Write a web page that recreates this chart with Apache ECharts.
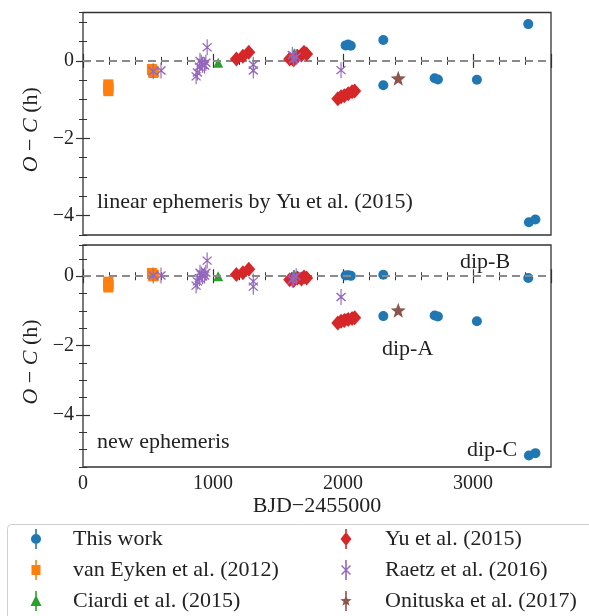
<!DOCTYPE html>
<html><head><meta charset="utf-8">
<script src="https://cdn.jsdelivr.net/npm/echarts@6/dist/echarts.min.js"></script>
<style>html,body{margin:0;padding:0;background:#fff}#c{width:589px;height:616px}</style>
</head><body><div id="c"></div>
<script>
// ---- data ----
const thisX      = [2020, 2040, 2060, 2310, 3425, 2030, 2310, 2705, 2730, 3030, 3430, 3480];
const thisTopY   = [0.40, 0.42, 0.39, 0.54, 0.95, -0.85, -0.63, -0.45, -0.48, -0.49, -4.17, -4.10];
const thisBotY   = [0.02, 0.03, 0.01, 0.04, -0.05, -1.22, -1.15, -1.13, -1.16, -1.30, -5.17, -5.10];

const vanX       = [195, 195, 195, 195, 530, 545, 540];
const vanTopY    = [-0.62, -0.67, -0.72, -0.77, -0.22, -0.28, -0.30];
const vanBotY    = [-0.17, -0.22, -0.27, -0.31, 0.08, 0.03, 0.01];

const ciaX       = [1040, 1625];
const ciaTopY    = [-0.05, 0.20];
const ciaBotY    = [0.00, 0.05];

const yuX        = [1180, 1230, 1275, 1590, 1620, 1650, 1680, 1700, 1720, 1960, 1985, 2010, 2040, 2070, 2090];
const yuTopY     = [0.05, 0.12, 0.22, 0.05, 0.02, 0.12, 0.15, 0.22, 0.18, -0.98, -0.93, -0.90, -0.85, -0.80, -0.78];
const yuBotY     = [0.05, 0.10, 0.20, -0.10, -0.12, -0.05, -0.08, -0.02, -0.05, -1.35, -1.30, -1.28, -1.25, -1.22, -1.20];

const raeX       = [540, 600, 870, 880, 895, 900, 910, 920, 935, 945, 955, 1310, 1310, 1620, 1640, 1610, 1985];
const raeTopY    = [-0.27, -0.25, -0.40, -0.30, -0.15, 0.00, -0.05, -0.10, -0.12, -0.05, 0.35, -0.10, -0.25, 0.05, 0.10, 0.15, -0.24];
const raeBotY    = [0.02, 0.02, -0.27, -0.15, -0.05, 0.10, 0.05, 0.00, 0.02, 0.10, 0.45, -0.15, -0.30, -0.05, 0.00, -0.10, -0.60];

const oniX       = [2425];
const oniTopY    = [-0.45];
const oniBotY    = [-0.98];

const xTicks     = [0, 1000, 2000, 3000];
const yTicks     = [-4, -2, 0];

// ---- styling ----
const FONT = 'Liberation Serif';
const FS = 22;     // text
const FT = 20;     // tick labels
const C = {blue:'#1f77b4', orange:'#ff7f0e', green:'#2ca02c', red:'#d62728', purple:'#9467bd', brown:'#8c564b'};
const BOX = ' M0,10 L0.01,10 L0.01,10.01 Z M12,10 L11.99,10 L11.99,10.01 Z';
const BAR = 'M5.2,0 L6.8,0 L6.8,20 L5.2,20 Z ';
const ICON = {
  circle: 'path://' + BAR + 'M1,10 A5,5 0 1 1 11,10 A5,5 0 1 1 1,10 Z' + BOX,
  rect: 'path://' + BAR + 'M1.5,5 L10.5,5 L10.5,15 L1.5,15 Z' + BOX,
  tri: 'path://' + BAR + 'M6,4 L11.5,15 L0.5,15 Z' + BOX,
  dia: 'path://' + BAR + 'M6,3 L11.5,10 L6,17 L0.5,10 Z' + BOX,
  x: 'path://' + BAR + 'M2,5 L11,14 L10,15 L1,6 Z M11,6 L2,15 L1,14 L10,5 Z' + BOX,
  star: 'path://' + BAR + 'M6,4 L7.47,7.98 L11.71,8.15 L8.38,10.77 L9.53,14.85 L6,12.5 L2.47,14.85 L3.62,10.77 L0.29,8.15 L4.53,7.98 Z' + BOX
};
const RAE_SYM = 'path://M4.5,0 L5.5,0 L5.5,16 L4.5,16 Z M1.45,3.55 L9.45,11.55 L8.55,12.45 L0.55,4.45 Z M9.45,4.45 L1.45,12.45 L0.55,11.55 L8.55,3.55 Z';
const STAR_SYM = 'path://M5,4.5 L6.35,8.14 L10.23,8.3 L7.19,10.71 L8.23,14.45 L5,12.3 L1.77,14.45 L2.81,10.71 L-0.23,8.3 L3.65,8.14 Z';

const pts = (xs, ys) => xs.map((x, i) => [x, ys[i]]);
const fmt = v => v < 0 ? '\u2212' + Math.abs(v) : String(v);

const grids = [
  {left: 83, top: 12.5, width: 468, height: 222.5, ymin: -4.5, ymax: 1.25},
  {left: 83, top: 245, width: 468, height: 222, ymin: -5.5, ymax: 0.9}
];

const xAxis = [], yAxis = [];
grids.forEach((g, gi) => {
  const last = gi === 1;
  const base = {gridIndex: gi, type: 'value', min: 0, max: 3600, splitLine: {show: false}, axisLine: {show: false}};
  xAxis.push(Object.assign({}, base, {position: 'bottom', interval: 1000,
    axisTick: {inside: true, length: 7, lineStyle: {color: '#333', width: 1.2}},
    axisLabel: {show: last, customValues: xTicks, formatter: fmt, fontFamily: FONT, fontSize: FT, color: '#222', margin: 7},
    name: last ? 'BJD\u22122455000' : '', nameLocation: 'middle', nameGap: 28,
    nameTextStyle: {fontFamily: FONT, fontSize: FS, color: '#222'}}));
  xAxis.push(Object.assign({}, base, {position: 'bottom', interval: 200,
    axisTick: {inside: true, length: 4, lineStyle: {color: '#333', width: 1}}, axisLabel: {show: false}}));
  xAxis.push(Object.assign({}, base, {position: 'top', interval: 1000,
    axisTick: {inside: true, length: 7, lineStyle: {color: '#333', width: 1.2}}, axisLabel: {show: false}}));
  xAxis.push(Object.assign({}, base, {position: 'top', interval: 200,
    axisTick: {inside: true, length: 4, lineStyle: {color: '#333', width: 1}}, axisLabel: {show: false}}));

  const ybase = {gridIndex: gi, type: 'value', min: g.ymin, max: g.ymax, splitLine: {show: false}, axisLine: {show: false}};
  yAxis.push(Object.assign({}, ybase, {position: 'left', interval: 0.5,
    axisTick: {inside: true, length: 7, customValues: yTicks, lineStyle: {color: '#333', width: 1.2}},
    axisLabel: {customValues: yTicks, formatter: fmt, fontFamily: FONT, fontSize: FT, color: '#222', margin: 9},
    name: '{i|O} \u2212 {i|C} (h)', nameLocation: 'middle', nameGap: 40, nameRotate: 90,
    nameTextStyle: {fontFamily: FONT, fontSize: FS, color: '#222', padding: [0, 12, 0, 0],
      rich: {i: {fontFamily: FONT, fontSize: FS, fontStyle: 'italic', color: '#222'}}}}));
  yAxis.push(Object.assign({}, ybase, {position: 'left', interval: 0.5,
    axisTick: {inside: true, length: 4, lineStyle: {color: '#333', width: 1}}, axisLabel: {show: false}}));
  yAxis.push(Object.assign({}, ybase, {position: 'right', interval: 0.5,
    axisTick: {inside: true, length: 7, customValues: yTicks, lineStyle: {color: '#333', width: 1.2}}, axisLabel: {show: false}}));
  yAxis.push(Object.assign({}, ybase, {position: 'right', interval: 0.5,
    axisTick: {inside: true, length: 4, lineStyle: {color: '#333', width: 1}}, axisLabel: {show: false}}));
});

const series = [];
const sets = [
  {name: 'This work', color: C.blue, symbol: 'circle', size: 10, x: thisX, top: thisTopY, bot: thisBotY},
  {name: 'van Eyken et al. (2012)', color: C.orange, symbol: 'rect', size: [10, 11], x: vanX, top: vanTopY, bot: vanBotY},
  {name: 'Ciardi et al. (2015)', color: C.green, symbol: 'triangle', size: [10, 10], x: ciaX, top: ciaTopY, bot: ciaBotY},
  {name: 'Yu et al. (2015)', color: C.red, symbol: 'diamond', size: [13, 15], x: yuX, top: yuTopY, bot: yuBotY},
  {name: 'Raetz et al. (2016)', color: C.purple, symbol: RAE_SYM, size: [10, 16], x: raeX, top: raeTopY, bot: raeBotY},
  {name: 'Onituska et al. (2017)', color: C.brown, symbol: STAR_SYM, size: [15, 15], x: oniX, top: oniTopY, bot: oniBotY}
];
[0, 1].forEach(gi => {
  series.push({type: 'scatter', name: 'ref' + gi, xAxisIndex: gi * 4, yAxisIndex: gi * 4, data: [], z: 1, silent: true,
    markLine: {silent: true, symbol: 'none', label: {show: false}, animation: false,
      lineStyle: {type: [8, 5], color: '#8a8a8a', width: 2}, data: [{yAxis: 0}]}});
  sets.forEach((s, si) => {
    series.push({type: 'scatter', name: s.name, xAxisIndex: gi * 4, yAxisIndex: gi * 4,
      data: pts(s.x, gi === 0 ? s.top : s.bot), symbol: s.symbol, symbolSize: s.size,
      itemStyle: {color: s.color, opacity: 1}, z: 2 + si, animation: false});
  });
});

const legCommon = {orient: 'vertical', itemWidth: 12, itemHeight: 20, itemGap: 9, selectedMode: false, top: 528, padding: 0};

const chart = echarts.init(document.getElementById('c'), null, {renderer: 'canvas'});
chart.setOption({
  animation: false,
  backgroundColor: '#fff',
  grid: grids.map(g => ({left: g.left, top: g.top, width: g.width, height: g.height, show: true,
    borderColor: '#333', borderWidth: 1.3, backgroundColor: 'transparent', containLabel: false})),
  xAxis, yAxis, series,
  legend: [
    Object.assign({}, legCommon, {left: 30, textStyle: {fontFamily: FONT, fontSize: FS, color: '#222', lineHeight: 20, padding: [0, 0, 0, 26]}, data: [
      {name: 'This work', icon: ICON.circle},
      {name: 'van Eyken et al. (2012)', icon: ICON.rect},
      {name: 'Ciardi et al. (2015)', icon: ICON.tri}]}),
    Object.assign({}, legCommon, {left: 340, textStyle: {fontFamily: FONT, fontSize: FS, color: '#222', lineHeight: 20, padding: [0, 0, 0, 28]}, data: [
      {name: 'Yu et al. (2015)', icon: ICON.dia},
      {name: 'Raetz et al. (2016)', icon: ICON.x},
      {name: 'Onituska et al. (2017)', icon: ICON.star}]})
  ],
  graphic: [
    {type: 'rect', left: 5, top: 522, shape: {width: 600, height: 110, r: 4}, style: {fill: 'none', stroke: '#cfcfcf', lineWidth: 1}, z: 0},
    {type: 'text', left: 97, top: 191, style: {text: 'linear ephemeris by Yu et al. (2015)', font: FS + 'px ' + FONT, fill: '#222'}},
    {type: 'text', left: 97, top: 431, style: {text: 'new ephemeris', font: FS + 'px ' + FONT, fill: '#222'}},
    {type: 'text', left: 460, top: 251, style: {text: 'dip-B', font: FS + 'px ' + FONT, fill: '#222'}},
    {type: 'text', left: 382, top: 338, style: {text: 'dip-A', font: FS + 'px ' + FONT, fill: '#222'}},
    {type: 'text', left: 467, top: 439, style: {text: 'dip-C', font: FS + 'px ' + FONT, fill: '#222'}}
  ]
});
</script></body></html>
